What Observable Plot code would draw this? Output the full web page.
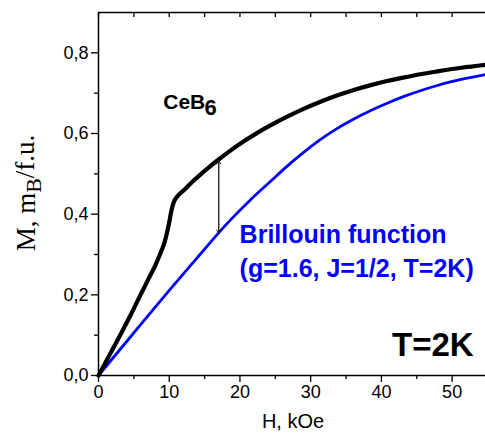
<!DOCTYPE html>
<html><head><meta charset="utf-8">
<script src="https://cdn.jsdelivr.net/npm/d3@7"></script>
<script src="https://cdn.jsdelivr.net/npm/@observablehq/plot@0.6"></script>
<style>body{margin:0;background:#fff;overflow:hidden}</style>
</head><body><div id="chart"></div>
<script>
// CeB6 measured magnetization, T = 2 K
const ceb6H = [0, 1.2, 2.4, 3.6, 4.6, 5.8, 7.0, 8.0, 8.8, 9.3, 9.7, 10.0, 10.3, 10.65, 11.1, 12.06, 13.2, 14.4, 15.6, 16.8, 18.6, 20.5, 22.4, 24.3, 26.6, 29.0, 31.3, 33.7, 36.1, 38.5, 40.8, 43.2, 45.5, 47.9, 51.3, 55];
const ceb6M = [0, 0.039, 0.078, 0.118, 0.152, 0.195, 0.237, 0.272, 0.305, 0.328, 0.355, 0.38, 0.408, 0.430, 0.443, 0.459, 0.479, 0.498, 0.516, 0.533, 0.557, 0.580, 0.601, 0.620, 0.641, 0.661, 0.678, 0.694, 0.708, 0.720, 0.730, 0.739, 0.747, 0.754, 0.763, 0.771];
// Brillouin function (g=1.6, J=1/2, T=2K)
const brillH = [0, 5, 10, 14.6, 16.8, 19.0, 21.5, 24.3, 26.6, 29.0, 31.3, 33.7, 36.1, 38.5, 40.8, 43.2, 45.5, 47.9, 51.3, 55];
const brillM = [0, 0.106, 0.211, 0.305, 0.350, 0.392, 0.436, 0.481, 0.518, 0.553, 0.584, 0.612, 0.636, 0.657, 0.675, 0.692, 0.706, 0.719, 0.734, 0.747];
// ticks
const xTicks = [0, 10, 20, 30, 40, 50];
const xMinor = [5, 15, 25, 35, 45, 55];
const yTicks = [0, 0.2, 0.4, 0.6, 0.8];
const yMinor = [0.1, 0.3, 0.5, 0.7];
// arrow between curves
const arrowH = [17];
const arrowTop = [0.533];
const arrowBottom = [0.352];

const ceb6 = ceb6H.map((h, i) => ({H: h, M: ceb6M[i]}));
const brill = brillH.map((h, i) => ({H: h, M: brillM[i]}));
const arrows = arrowH.map((h, i) => ({H: h, top: arrowTop[i], bottom: arrowBottom[i]}));
const fmt = d => d.toFixed(1).replace(".", ",");
const sans = "'Liberation Sans', Arial, sans-serif";

const chart = Plot.plot({
  width: 485, height: 438,
  marginLeft: 98, marginRight: -2, marginTop: 12, marginBottom: 63,
  style: {fontFamily: sans, background: "#fff", color: "#000"},
  x: {domain: [0, 55]},
  y: {domain: [0, 0.9]},
  marks: [
    Plot.axisX({ticks: xTicks, tickSize: 7, tickPadding: 3, fontSize: 18, tickFormat: d => d, label: null, strokeWidth: 1.3}),
    Plot.axisX({ticks: xMinor, tickSize: 4, tickFormat: () => "", label: null, strokeWidth: 1.3}),
    Plot.axisX({anchor: "top", ticks: xTicks.concat(xMinor), tickSize: -4, tickFormat: () => "", label: null, strokeWidth: 1.3}),
    Plot.axisY({ticks: yTicks, tickSize: 7, tickPadding: 3, fontSize: 18, tickFormat: fmt, label: null, strokeWidth: 1.3}),
    Plot.axisY({ticks: yMinor, tickSize: 4, tickFormat: () => "", label: null, strokeWidth: 1.3}),
    Plot.frame({stroke: "#000", strokeWidth: 1.5}),
    Plot.line(brill, {x: "H", y: "M", stroke: "#0000ff", strokeWidth: 2.8, curve: "monotone-x"}),
    Plot.line(ceb6, {x: "H", y: "M", stroke: "#000", strokeWidth: 4.2, curve: "monotone-x", strokeLinejoin: "round"}),
    Plot.arrow(arrows, {x: "H", y1: "top", y2: "bottom", stroke: "#222", strokeWidth: 1, headLength: 6}),
    Plot.arrow(arrows, {x: "H", y1: "bottom", y2: "top", stroke: "#222", strokeWidth: 1, headLength: 6}),
    Plot.text(["CeB"], {x: 9.15, y: 0.661, textAnchor: "start", lineAnchor: "bottom", fontSize: 21, fontWeight: "bold"}),
    Plot.text(["6"], {x: 15.0, y: 0.645, textAnchor: "start", lineAnchor: "bottom", fontSize: 22, fontWeight: "bold"}),
    Plot.text(["Brillouin function"], {x: 19.95, y: 0.328, textAnchor: "start", lineAnchor: "bottom", fontSize: 25, fontWeight: "bold", fill: "#0000ff"}),
    Plot.text(["(g=1.6, J=1/2, T=2K)"], {x: 19.95, y: 0.2435, textAnchor: "start", lineAnchor: "bottom", fontSize: 25, fontWeight: "bold", fill: "#0000ff"}),
    Plot.text(["T=2K"], {x: 41.5, y: 0.0495, textAnchor: "start", lineAnchor: "bottom", fontSize: 33, fontWeight: "bold"}),
    Plot.text(["H, kOe"], {frameAnchor: "bottom", dy: 52, lineAnchor: "bottom", fontSize: 20})
  ]
});
document.getElementById("chart").appendChild(chart);

// rotated y-axis label with subscript
const lab = d3.select(chart).append("text")
  .attr("transform", "translate(35,193) rotate(-90)")
  .attr("text-anchor", "middle")
  .style("font-family", "'Liberation Serif', 'Times New Roman', serif")
  .style("font-size", "27px")
  .attr("fill", "#000");
lab.append("tspan").text("M, m");
lab.append("tspan").attr("dy", "0.25em").style("font-size", "22px").text("B");
lab.append("tspan").attr("dy", "-0.25em").text("/f.u.");
</script>
</body></html>
